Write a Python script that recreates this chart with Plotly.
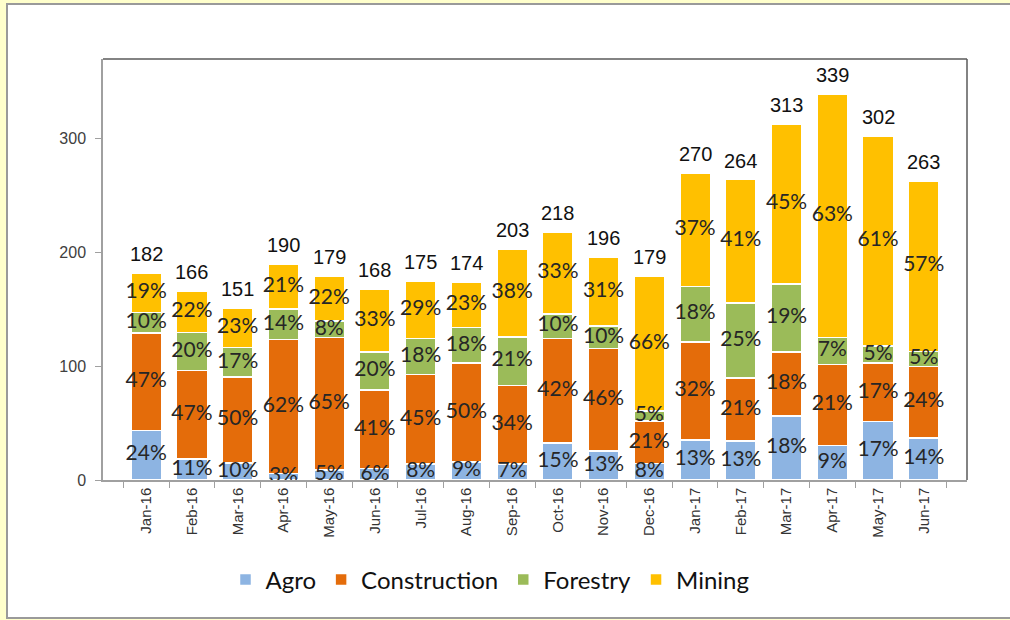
import plotly.graph_objects as go

months = ["Jan-16", "Feb-16", "Mar-16", "Apr-16", "May-16", "Jun-16", "Jul-16", "Aug-16", "Sep-16",
          "Oct-16", "Nov-16", "Dec-16", "Jan-17", "Feb-17", "Mar-17", "Apr-17", "May-17", "Jun-17"]
totals = [182, 166, 151, 190, 179, 168, 175, 174, 203, 218, 196, 179, 270, 264, 313, 339, 302, 263]
agro_pct = [24, 11, 10, 3, 5, 6, 8, 9, 7, 15, 13, 8, 13, 13, 18, 9, 17, 14]
construction_pct = [47, 47, 50, 62, 65, 41, 45, 50, 34, 42, 46, 21, 32, 21, 18, 21, 17, 24]
forestry_pct = [10, 20, 17, 14, 8, 20, 18, 18, 21, 10, 10, 5, 18, 25, 19, 7, 5, 5]
mining_pct = [19, 22, 23, 21, 22, 33, 29, 23, 38, 33, 31, 66, 37, 41, 45, 63, 61, 57]
y_ticks = [0, 100, 200, 300]

series = [
    ("Agro", agro_pct, "#8DB4E2"),
    ("Construction", construction_pct, "#E46C0A"),
    ("Forestry", forestry_pct, "#9BBB59"),
    ("Mining", mining_pct, "#FFC000"),
]

fig = go.Figure()
base = [0.0] * len(months)
label_x, label_y, label_t = [], [], []
for name, pct, color in series:
    vals = [t * p / 100.0 for t, p in zip(totals, pct)]
    fig.add_trace(go.Bar(
        x=months, y=vals, name=name, marker=dict(color=color, line=dict(color="white", width=1.5)),
        hoverinfo="skip",
    ))
    for i, v in enumerate(vals):
        label_x.append(months[i])
        label_y.append(base[i] + v / 2)
        label_t.append(f"{pct[i]}%")
        base[i] += v

fig.add_trace(go.Scatter(
    x=label_x, y=label_y, text=label_t, mode="text", textposition="middle center",
    textfont=dict(family="Lato", size=21, color="#262626"), showlegend=False,
    hoverinfo="skip", cliponaxis=False,
))

for m, t in zip(months, totals):
    fig.add_annotation(x=m, y=t, text=str(t), showarrow=False, yanchor="bottom", yshift=6,
                       font=dict(family="Liberation Sans", size=20, color="#111111"))

L, R, T, B = 103, 43, 59, 140
W, H = 1010, 620
pw, ph = W - L - R, H - T - B

def px(x):
    return (x - L) / pw

def py(y):
    return (H - B - y) / ph

fig.add_shape(type="rect", xref="paper", yref="paper", x0=px(7), x1=px(1014), y0=py(618), y1=py(4),
              fillcolor="white", line=dict(color="#9a9a9a", width=2), layer="below")
# darker top and right frame edges of the plot area
fig.add_shape(type="line", xref="paper", yref="paper", x0=0, x1=1, y0=1, y1=1,
              line=dict(color="#5a5a5a", width=1.5))
fig.add_shape(type="line", xref="paper", yref="paper", x0=1, x1=1, y0=0, y1=1,
              line=dict(color="#5a5a5a", width=1.5))

fig.update_layout(
    width=W, height=H,
    margin=dict(l=L, r=R, t=T, b=B),
    paper_bgcolor="#FFFFCC",
    plot_bgcolor="white",
    barmode="stack",
    bargap=0.33,
    font=dict(family="Liberation Sans", color="#404040"),
    legend=dict(orientation="h", x=px(490), xanchor="center", y=py(580), yanchor="middle",
                traceorder="normal",
                font=dict(family="Lato", size=24, color="#111111"), bgcolor="rgba(0,0,0,0)",
                itemclick=False),
    xaxis=dict(type="category", tickangle=-90, tickfont=dict(size=15, color="#333333"),
               showline=True, linecolor="#a0a0a0", linewidth=1.5,
               ticks="outside", tickson="boundaries", ticklen=6, tickcolor="#a0a0a0",
               showgrid=False),
    yaxis=dict(range=[0, 370], tickvals=y_ticks, tickfont=dict(size=16, color="#404040"),
               showline=True, linecolor="#a0a0a0", linewidth=1.5, ticklabelstandoff=6,
               ticks="outside", ticklen=6, tickcolor="#a0a0a0", showgrid=False, zeroline=False),
)

fig.write_html("out.html", config={"displayModeBar": False},
               post_script="document.body.style.margin='0';document.body.style.background='#FFFFCC';")
